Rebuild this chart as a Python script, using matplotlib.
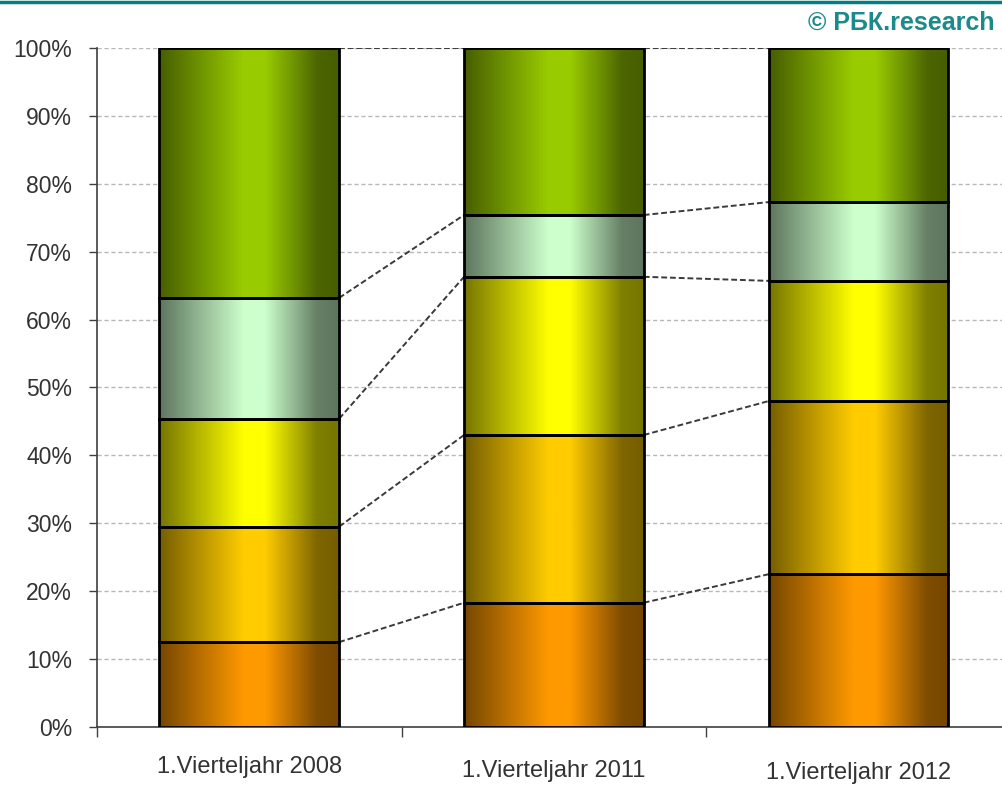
import numpy as np
import matplotlib
matplotlib.use("Agg")
import matplotlib.pyplot as plt
from matplotlib.lines import Line2D
from matplotlib.colors import to_rgb

# shares in percent, bottom to top
categories = ['1.Vierteljahr 2008', '1.Vierteljahr 2011', '1.Vierteljahr 2012']
orange = [12.5, 18.3, 22.5]
gold = [17.0, 24.7, 25.5]
yellow = [15.9, 23.3, 17.7]
mint = [17.8, 9.1, 11.6]
green = [36.8, 24.6, 22.7]
series = [orange, gold, yellow, mint, green]
colors = ['#FF9900', '#FFCC00', '#FFFF00', '#CCFFCC', '#99CC00']
label_drop = [0, 4, 6]   # the category labels sit a bit lower each time

plt.rcParams['font.family'] = ['Liberation Sans', 'DejaVu Sans']

fig = plt.figure(figsize=(10.02, 7.85), dpi=100)
ax = fig.add_axes([0.0968, 0.0739, 0.912, 0.865])

x = np.arange(len(categories))
w = 0.59

# shading across the bar: dark edges, bright just right of centre
pos = np.linspace(0, 1, 200)
shade = np.interp(pos, [0, 0.47, 0.59, 0.88, 1.0], [0.46, 1.0, 1.0, 0.5, 0.46])

bottom = np.zeros(len(categories))
tops = []
for vals, c in zip(series, colors):
    bars = ax.bar(x, vals, w, bottom=bottom, facecolor='none',
                  edgecolor='black', linewidth=2, zorder=4)
    rgb = np.array(to_rgb(c))
    img = (shade[:, None] * rgb[None, :])[None, :, :]
    for b in bars:
        x0, y0 = b.get_x(), b.get_y()
        ax.imshow(img, extent=(x0, x0 + b.get_width(), y0, y0 + b.get_height()),
                  aspect='auto', zorder=3, interpolation='bilinear')
    bottom = bottom + np.array(vals)
    tops.append(bottom.copy())

# dashed connectors between the segment borders
for t in tops:
    for i in range(len(categories) - 1):
        ax.plot([x[i] + w / 2, x[i + 1] - w / 2], [t[i], t[i + 1]],
                color='#3A3A3A', linestyle=(0, (3, 1.5)), linewidth=1.4, zorder=2)

ax.set_xlim(-0.5, 2.5)
ax.set_ylim(0, 100)
ax.set_yticks(np.arange(0, 101, 10))
ax.set_yticklabels([f'{v}%' for v in range(0, 101, 10)])
ax.yaxis.grid(True, color='#B8B8B8', linestyle=(0, (3, 2)), linewidth=1)
ax.set_axisbelow(True)

ax.set_xticks([-0.5, 0.5, 1.5, 2.5])
ax.set_xticklabels([])
for i, lab in enumerate(categories):
    ax.annotate(lab, xy=(x[i], 0), xycoords=('data', 'axes fraction'),
                xytext=(0, -29 - label_drop[i]), textcoords='offset pixels',
                ha='center', va='top', fontsize=17, color='#333333')

ax.tick_params(axis='y', direction='out', length=6, width=1, pad=12,
               labelsize=16.5, labelcolor='#333333', color='#404040')
ax.tick_params(axis='x', direction='out', length=7, width=1, color='#404040')
for s in ['top', 'right']:
    ax.spines[s].set_visible(False)
for s in ['left', 'bottom']:
    ax.spines[s].set_color('#404040')
    ax.spines[s].set_linewidth(1.2)

fig.add_artist(Line2D([0, 1], [0.998, 0.998], color='#008080', linewidth=2.5,
                      transform=fig.transFigure))
fig.text(0.993, 0.962, '© РБК.research', ha='right', va='baseline',
         fontsize=18, fontweight='bold', color='#1A8A8A')

fig.savefig('out.png', dpi=100)
